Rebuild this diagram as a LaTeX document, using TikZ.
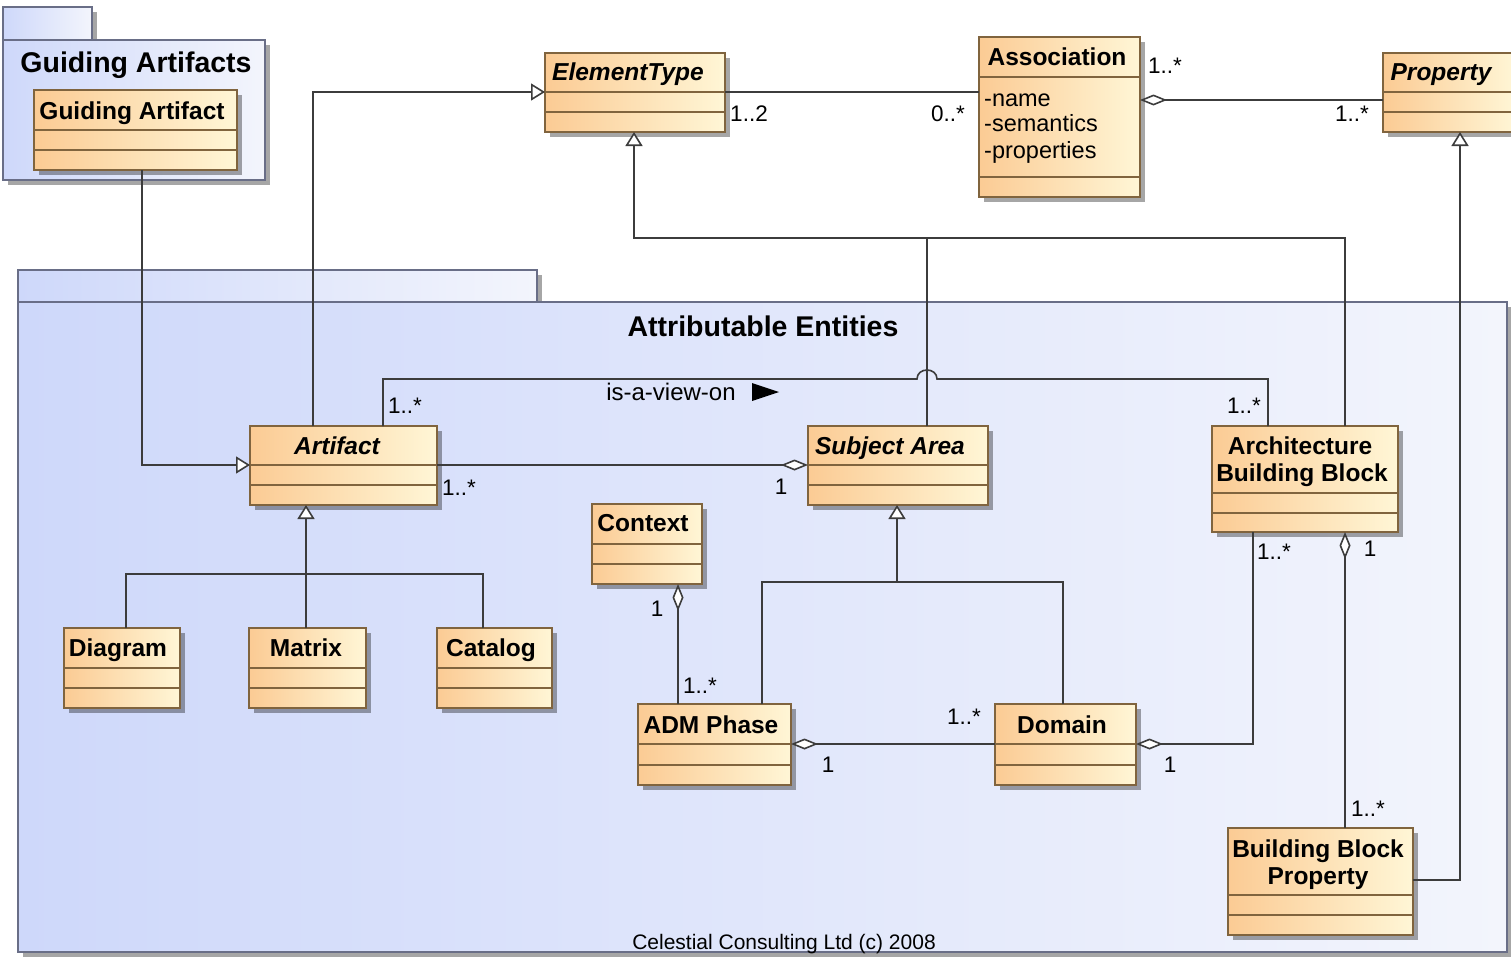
\documentclass[tikz,border=0pt]{standalone}
\usepackage{fontspec}
\setmainfont{Liberation Sans}
\usetikzlibrary{arrows.meta,calc,shadows}

\definecolor{clsL}{RGB}{251,203,148}
\definecolor{clsR}{RGB}{255,246,214}
\definecolor{clsLine}{RGB}{128,100,62}
\definecolor{pkgL}{RGB}{206,216,250}
\definecolor{pkgR}{RGB}{243,245,252}
\definecolor{pkgLine}{RGB}{105,110,135}
\definecolor{wire}{RGB}{60,60,60}

\tikzset{
  cls/.style={draw=clsLine, line width=1.5pt, left color=clsL, right color=clsR,
    anchor=north west, inner sep=0pt, outer sep=0pt,
    drop shadow={shadow xshift=5pt, shadow yshift=-5pt, fill=black, opacity=0.35}},
  pkg/.style={draw=pkgLine, line width=1.5pt, left color=pkgL, right color=pkgR,
    anchor=north west, inner sep=0pt, outer sep=0pt,
    drop shadow={shadow xshift=5pt, shadow yshift=-5pt, fill=black, opacity=0.35}},
  sepline/.style={draw=clsLine, line width=1.5pt},
  wire/.style={draw=wire, line width=1.6pt},
  gen/.style={wire, -{Triangle[open, length=14pt, width=17pt, fill=white]}},
  agg/.style={wire, {Diamond[open, length=27pt, width=11pt, fill=white]}-},
  ttl/.style={font=\fontsize{24.5}{28}\selectfont\bfseries, inner sep=0pt, anchor=base},
  ittl/.style={ttl, font=\fontsize{24.5}{28}\selectfont\bfseries\itshape},
  pkgttl/.style={font=\fontsize{28.5}{32}\selectfont\bfseries, inner sep=0pt, anchor=base},
  mult/.style={font=\fontsize{22.5}{26}\selectfont, inner sep=0pt, anchor=base},
  attr/.style={font=\fontsize{23.5}{27}\selectfont, inner sep=0pt, anchor=base west},
}

% class box: name, x, y, width, height, first and second compartment offsets
\newcommand{\umlclassbox}[7]{%
  \node[cls, minimum width=#4pt, minimum height=#5pt] (#1) at (#2,#3) {};
  \draw[sepline] ($(#1.north west)+(0,#6)$) -- ($(#1.north east)+(0,#6)$);
  \draw[sepline] ($(#1.north west)+(0,#7)$) -- ($(#1.north east)+(0,#7)$);
}

\begin{document}
\begin{tikzpicture}[x=1pt, y=-1pt]
\fill[white] (0,0) rectangle (1511,958);
\useasboundingbox (0,0) rectangle (1511,958);

% packages
\node[pkg, minimum width=89pt, minimum height=33pt] (gap-tab) at (3,7) {};
\node[pkg, minimum width=262pt, minimum height=140pt] (gap) at (3,40) {};
\node[pkg, minimum width=519pt, minimum height=32pt] (aep-tab) at (18,270) {};
\node[pkg, minimum width=1489pt, minimum height=650pt] (aep) at (18,302) {};

% classes
\umlclassbox{ga}{34}{90}{203}{80}{40}{60}
\umlclassbox{et}{545}{53}{180}{79}{39}{59}
\umlclassbox{as}{979}{37}{161}{160}{40}{140}
\umlclassbox{pr}{1383}{53}{132}{79}{39}{59}
\umlclassbox{art}{250}{426}{187}{79}{39}{59}
\umlclassbox{sa}{808}{426}{180}{79}{39}{59}
\umlclassbox{ctx}{592}{504}{110}{80}{40}{60}
\umlclassbox{dg}{64}{628}{116}{80}{40}{60}
\umlclassbox{mx}{249}{628}{117}{80}{40}{60}
\umlclassbox{cat}{437}{628}{115}{80}{40}{60}
\umlclassbox{adm}{638}{704}{153}{81}{40}{61}
\umlclassbox{dom}{995}{704}{141}{81}{40}{61}
\umlclassbox{abb}{1212}{426}{186}{106}{67}{87}
\umlclassbox{bbp}{1228}{828}{185}{107}{67}{87}

% junction points
\coordinate (jEt) at (634,238);
\coordinate (jArt) at (306,574);
\coordinate (jSa) at (897,582);
\coordinate (bridge) at (927,379);

% generalizations
\draw[gen] ($(ga.south west)+(108,0)$) |- ($(art.north west)+(0,39)$);
\draw[gen] ($(art.north west)+(63,0)$) |- ($(et.north west)+(0,39)$);
\draw[wire] ($(sa.north west)+(119,0)$) |- (jEt);
\draw[gen] ($(abb.north west)+(133,0)$) |- (jEt) -- ($(et.south west)+(89,0)$);
\draw[gen] ($(bbp.north east)+(0,52)$) -| ($(pr.south west)+(77,0)$);
\draw[gen] (jArt) -- ($(art.south west)+(56,0)$);
\draw[wire] ($(dg.north west)+(62,0)$) |- (jArt) -| ($(cat.north west)+(46,0)$);
\draw[wire] ($(mx.north west)+(57,0)$) -- (jArt);
\draw[gen] (jSa) -- ($(sa.south west)+(89,0)$);
\draw[wire] ($(adm.north west)+(124,0)$) |- (jSa) -| ($(dom.north west)+(68,0)$);

% associations
\draw[wire] ($(et.north east)+(0,39)$) -- ($(as.north west)+(0,55)$);
\draw[agg] ($(as.north east)+(0,63)$) -- ($(pr.north west)+(0,47)$);
\draw[agg] ($(sa.north west)+(0,39)$) -- ($(art.north east)+(0,39)$);
\draw[wire] ($(art.north west)+(133,0)$) |- ($(bridge)+(-10,0)$)
  .. controls ($(bridge)+(-10,-12)$) and ($(bridge)+(10,-12)$) .. ($(bridge)+(10,0)$)
  -| ($(abb.north west)+(56,0)$);
\draw[agg] ($(ctx.south west)+(86,0)$) -- ($(adm.north west)+(40,0)$);
\draw[agg] ($(adm.north east)+(0,40)$) -- ($(dom.north west)+(0,40)$);
\draw[agg] ($(dom.north east)+(0,40)$) -| ($(abb.south west)+(41,0)$);
\draw[agg] ($(abb.south west)+(133,0)$) -- ($(bbp.north west)+(117,0)$);

% package titles
\node[pkgttl] (gap-t) at (136,72) {Guiding Artifacts};
\node[pkgttl] (aep-t) at (763,336) {Attributable Entities};

% class names
\node[ttl] (ga-t) at (132,119) {Guiding Artifact};
\node[ittl] (et-t) at (628,81) {ElementType};
\node[ttl] (as-t) at (1057,66) {Association};
\node[ittl] (pr-t) at (1441,81) {Property};
\node[ittl] (art-t) at (337,454) {Artifact};
\node[ittl] (sa-t) at (890,454) {Subject Area};
\node[ttl] (ctx-t) at (643,531) {Context};
\node[ttl] (dg-t) at (118,656) {Diagram};
\node[ttl] (mx-t) at (306,656) {Matrix};
\node[ttl] (cat-t) at (491,656) {Catalog};
\node[ttl] (adm-t) at (711,733) {ADM Phase};
\node[ttl] (dom-t) at (1062,733) {Domain};
\node[ttl] (abb-t1) at (1300,454) {Architecture};
\node[ttl] (abb-t2) at (1302,481) {Building Block};
\node[ttl] (bbp-t1) at (1318,857) {Building Block};
\node[ttl] (bbp-t2) at (1318,884) {Property};

% attributes
\node[attr] (as-a1) at (984,106) {-name};
\node[attr] (as-a2) at (984,131) {-semantics};
\node[attr] (as-a3) at (984,158) {-properties};

% multiplicities
\node[mult] (m1) at (749,121) {1..2};
\node[mult] (m2) at (948,121) {0..*};
\node[mult] (m3) at (1165,74) {1..*};
\node[mult] (m4) at (1352,121) {1..*};
\node[mult] (m5) at (405,413) {1..*};
\node[mult] (m6) at (1244,413) {1..*};
\node[mult] (m7) at (459,495) {1..*};
\node[mult] (m8) at (781,494) {1};
\node[mult] (m9) at (657,616) {1};
\node[mult] (m10) at (700,693) {1..*};
\node[mult] (m11) at (964,724) {1..*};
\node[mult] (m12) at (828,772) {1};
\node[mult] (m13) at (1170,772) {1};
\node[mult] (m14) at (1274,559) {1..*};
\node[mult] (m15) at (1370,556) {1};
\node[mult] (m16) at (1368,816) {1..*};

% association name with reading direction
\node[mult, font=\fontsize{24}{28}\selectfont] (view-t) at (671,400) {is-a-view-on};
\fill[black] (752,383) -- (779,392) -- (752,401) -- cycle;

% copyright
\node[mult, font=\fontsize{21}{24}\selectfont] (copy) at (784,949) {Celestial Consulting Ltd (c) 2008};
\end{tikzpicture}
\end{document}
